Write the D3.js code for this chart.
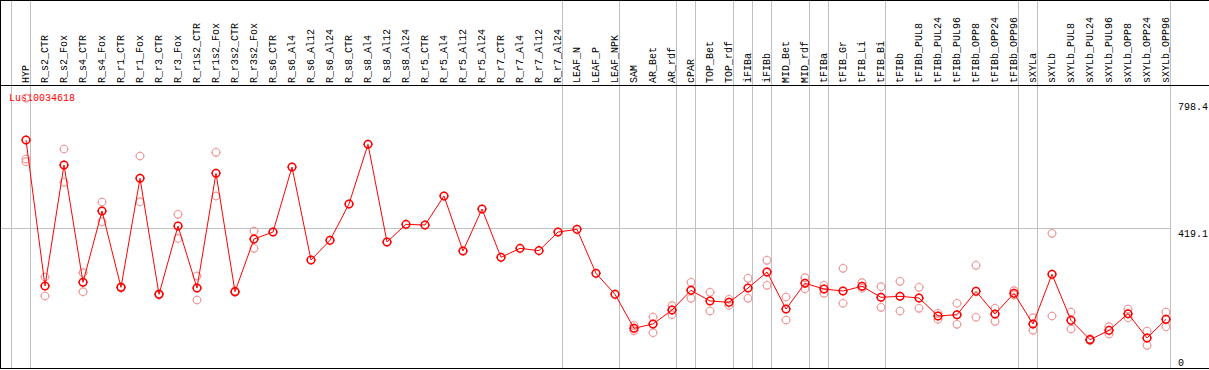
<!DOCTYPE html>
<html><head><meta charset="utf-8">
<script src="https://cdn.jsdelivr.net/npm/d3@7"></script>
<style>body{margin:0;background:#fff}svg{display:block}text{font-family:"Liberation Mono","DejaVu Sans Mono",monospace;font-size:10px}</style>
</head><body><svg id="c" width="1209" height="370"></svg>
<script>
const title = "Lus10034618";
const categories = ["HYP","R_s2_CTR","R_s2_Fox","R_s4_CTR","R_s4_Fox","R_r1_CTR","R_r1_Fox","R_r3_CTR","R_r3_Fox","R_r1s2_CTR","R_r1s2_Fox","R_r3s2_CTR","R_r3s2_Fox","R_s6_CTR","R_s6_Al4","R_s6_Al12","R_s6_Al24","R_s8_CTR","R_s8_Al4","R_s8_Al12","R_s8_Al24","R_r5_CTR","R_r5_Al4","R_r5_Al12","R_r5_Al24","R_r7_CTR","R_r7_Al4","R_r7_Al12","R_r7_Al24","LEAF_N","LEAF_P","LEAF_NPK","SAM","AR_Bet","AR_rdf","cPAR","TOP_Bet","TOP_rdf","iFIBa","iFIBb","MID_Bet","MID_rdf","tFIBa","tFIB_Gr","tFIB_Li","tFIB_Bi","tFIBb","tFIBb_PUL8","tFIBb_PUL24","tFIBb_PUL96","tFIBb_OPP8","tFIBb_OPP24","tFIBb_OPP96","sXYLa","sXYLb","sXYLb_PUL8","sXYLb_PUL24","sXYLb_PUL96","sXYLb_OPP8","sXYLb_OPP24","sXYLb_OPP96"];
const means = [682.5,245.5,607.7,256.5,470,241.5,567.8,220.5,425,239.5,582.8,228.5,386.2,407,601.7,323.3,382.2,491,669.6,377.2,430,428,515,350.2,476,331.3,358.2,351.3,407,415.1,283.4,220.5,118.8,131.7,173.6,232.5,200.6,196.6,239.5,287.4,176.6,253.5,236.5,230.5,244.5,211.6,214.6,209.6,155.7,159.6,229.5,161.7,223.5,131.7,280.4,142.7,84.8,112.7,162.6,89.8,145.7];
const replicates = [[808,625.7,617.6],[272.4,215.5],[655.6,556],[285.4,228.5],[497,438],[243,240],[634.6,497.9],[222,219],[460,388],[275.4,203.6],[645.6,514.9],[230,227],[410,358.3],
[],[],[],[],[],[],[],[],[],[],[],[],[],[],[],[],[],[],[],
[127,112],[152.7,105.7],[186.5,159.6],[256.5,208.6],[226.5,170.6],[205.6,187.7],[268.4,208.6],[322.3,247.5],[212.5,143.7],[270.4,237.4],[247.5,223.6],[298.4,193.7],[255.4,238.6],[243.4,181.7],[259.5,170.6],[241.5,178.7],[163.7,145.8],[193.7,130.8],[307.4,151.8],[178.7,139.8],[231.5,218.5],[150.6,112.7],[403.2,155.7],[167.6,116.7],[87,82],[123.7,101.8],[176.6,150.6],[110.8,67.9],[167.6,123.7]];
const groupEnds = ["HYP","R_r7_Al24","LEAF_NPK","AR_rdf","cPAR","TOP_rdf","iFIBa","iFIBb","MID_rdf","tFIBa","tFIB_Bi","tFIBb_OPP96","sXYLa","sXYLb_OPP96"];
const yTicks = [0, 419.1, 798.4];

const W = 1209, H = 370;
const svg = d3.select("#c");
const x = d3.scaleBand().domain(categories).range([11, 1170]).padding(0);
const bw = x.bandwidth();
const px = c => x(c) + bw * 15 / 19;
const y = d3.scaleLinear().domain([0, 419.1]).range([368, 228]);

const grid = svg.append("g").attr("shape-rendering","crispEdges");
grid.append("line").attr("x1",1).attr("x2",1170).attr("y1",Math.round(y(419.1))+0.5).attr("y2",Math.round(y(419.1))+0.5).attr("stroke","#c0c0c0");
const sepX = [x(categories[0])].concat(groupEnds.map(c => x(c) + bw));
grid.selectAll("line.v").data(sepX).enter().append("line").attr("class","v")
  .attr("x1",d=>Math.round(d)+0.5).attr("x2",d=>Math.round(d)+0.5).attr("y1",0).attr("y2",369).attr("stroke","#c0c0c0");
const bd = svg.append("g").attr("shape-rendering","crispEdges").attr("stroke","#000");
bd.append("line").attr("x1",0).attr("x2",W).attr("y1",0.5).attr("y2",0.5);
bd.append("line").attr("x1",0).attr("x2",W).attr("y1",85.5).attr("y2",85.5);
bd.append("line").attr("x1",0).attr("x2",W).attr("y1",368.5).attr("y2",368.5);
bd.append("line").attr("x1",0.5).attr("x2",0.5).attr("y1",0).attr("y2",369);

svg.append("g").selectAll("text").data(categories).enter().append("text")
  .attr("transform", c => `translate(${Math.round(px(c))+3},83) rotate(-90)`)
  .attr("fill","#000").text(c => c);

svg.append("g").selectAll("text").data(yTicks).enter().append("text")
  .attr("x",1178).attr("y", v => v === 0 ? y(v) - 2.5 : y(v) + 9)
  .attr("fill","#000").text(v => String(v));

svg.append("text").attr("x",9).attr("y",100.5).attr("fill","#ff0000").text(title);

function marker(r, t) {
  return `M${-r},0A${r},${r} 0 1,0 ${r},0A${r},${r} 0 1,0 ${-r},0` +
    `M0,${-r}V${-r-t}M0,${r}V${r+t}M${-r},0H${-r-t}M${r},0H${r+t}`;
}
const reps = [];
categories.forEach((c,i) => replicates[i].forEach(v => reps.push([c,v])));
svg.append("g").selectAll("path").data(reps).enter().append("path")
  .attr("transform", d => `translate(${px(d[0])},${y(d[1])})`)
  .attr("d", marker(3.8, 1)).attr("fill","none").attr("stroke","#ee9696").attr("stroke-width",1.1);

const line = d3.line().x((d,i)=>px(categories[i])).y(d=>y(d));
svg.append("path").datum(means).attr("d",line).attr("fill","none").attr("stroke","#ff0000").attr("stroke-width",1);

svg.append("g").selectAll("path").data(means).enter().append("path")
  .attr("transform", (d,i) => `translate(${px(categories[i])},${y(d)})`)
  .attr("d", marker(3.8, 1)).attr("fill","none").attr("stroke","#ff0000").attr("stroke-width",1.5);
</script></body></html>
